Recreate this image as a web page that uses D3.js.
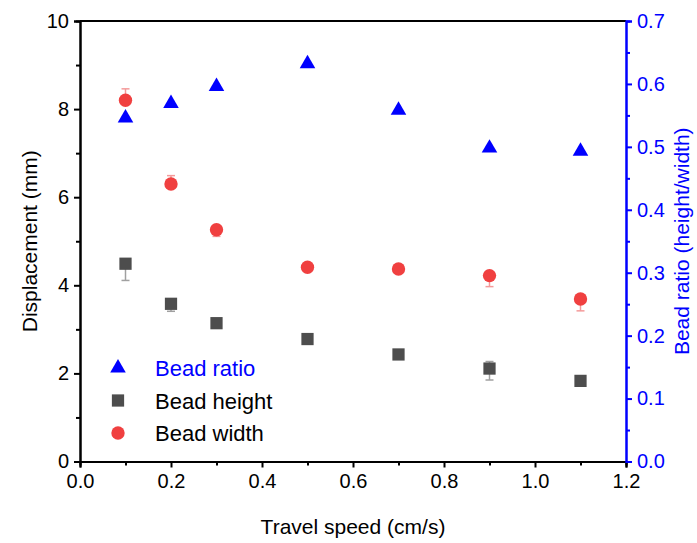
<!DOCTYPE html>
<html>
<head>
<meta charset="utf-8">
<script src="https://cdn.jsdelivr.net/npm/d3@7"></script>
<style>
  body { margin: 0; background: #fff; }
  text { font-family: "Liberation Sans", Arial, sans-serif; }
</style>
</head>
<body>
<script>
// travel speed (cm/s)
var speeds = [0.1, 0.2, 0.3, 0.5, 0.7, 0.9, 1.1];
// displacement (mm)
var beadHeight = [4.49, 3.58, 3.14, 2.78, 2.43, 2.11, 1.83];
var heightErrUp = [0, 0, 0, 0, 0, 0.16, 0];
var heightErrDown = [0.38, 0.17, 0.08, 0, 0, 0.26, 0.1];
var beadWidth = [8.2, 6.3, 5.26, 4.41, 4.37, 4.22, 3.69];
var widthErrUp = [0.26, 0.19, 0, 0, 0, 0.05, 0.05];
var widthErrDown = [0, 0, 0.15, 0, 0, 0.25, 0.27];
// bead ratio (height/width), right axis
var beadRatio = [0.546, 0.569, 0.596, 0.632, 0.558, 0.498, 0.493];

var xTicks = [0, 0.2, 0.4, 0.6, 0.8, 1.0, 1.2];
var yTicks = [0, 2, 4, 6, 8, 10];
var y2Ticks = [0, 0.1, 0.2, 0.3, 0.4, 0.5, 0.6, 0.7];
var legendNames = ["Bead ratio", "Bead height", "Bead width"];

var margin = {top: 21, right: 71, bottom: 81.5, left: 80},
    width = 697 - margin.left - margin.right,
    height = 543 - margin.top - margin.bottom;

var svg = d3.select("body").append("svg")
    .attr("width", 697)
    .attr("height", 543)
    .append("g")
    .attr("transform", "translate(" + margin.left + "," + margin.top + ")");

var xScale = d3.scaleLinear().domain([0, 1.2]).range([0, width]);
var yScale = d3.scaleLinear().domain([0, 10]).range([height, 0]);
var y2Scale = d3.scaleLinear().domain([0, 0.7]).range([height, 0]);

var blue = "#0000ff", red = "#f04040", grey = "#4d4d4d";

// top border
svg.append("line")
    .attr("x1", 0).attr("x2", width)
    .attr("y1", 0).attr("y2", 0)
    .attr("stroke", "#000").attr("stroke-width", 2);

// minor tick positions, halfway between majors
function minors(step, lo, hi) {
    var out = [];
    for (var v = lo; v < hi + 1e-9; v += step) out.push(+v.toFixed(3));
    return out;
}

var xAxis = d3.axisBottom(xScale).tickValues(xTicks).tickFormat(d3.format(".1f")).tickSize(6).tickPadding(6);
var xMinor = d3.axisBottom(xScale).tickValues(minors(0.2, 0.1, 1.1)).tickFormat("").tickSize(4);
var yAxis = d3.axisLeft(yScale).tickValues(yTicks).tickFormat(d3.format("d")).tickSize(6).tickPadding(5);
var yMinor = d3.axisLeft(yScale).tickValues(minors(2, 1, 9)).tickFormat("").tickSize(4);
var y2Axis = d3.axisRight(y2Scale).tickValues(y2Ticks).tickFormat(d3.format(".1f")).tickSize(6).tickPadding(5);
var y2Minor = d3.axisRight(y2Scale).tickValues(minors(0.1, 0.05, 0.65)).tickFormat("").tickSize(4);

function style(g, color) {
    g.select(".domain").attr("stroke", color).attr("stroke-width", 2);
    g.selectAll(".tick line").attr("stroke", color).attr("stroke-width", 2);
    g.selectAll(".tick text").attr("fill", color).attr("font-size", "20px")
        .style("font-family", "'Liberation Sans', Arial, sans-serif");
}

svg.append("g").attr("transform", "translate(0," + height + ")").call(xMinor).call(style, "#000");
svg.append("g").attr("transform", "translate(0," + height + ")").call(xAxis).call(style, "#000");
svg.append("g").call(yMinor).call(style, "#000");
svg.append("g").call(yAxis).call(style, "#000");
svg.append("g").attr("transform", "translate(" + width + ",0)").call(y2Minor).call(style, blue);
svg.append("g").attr("transform", "translate(" + width + ",0)").call(y2Axis).call(style, blue);

// axis titles
svg.append("text")
    .attr("x", width / 2).attr("y", height + 72)
    .attr("text-anchor", "middle").attr("font-size", "21px")
    .text("Travel speed (cm/s)");
svg.append("text")
    .attr("transform", "rotate(-90)")
    .attr("x", -height / 2).attr("y", -43)
    .attr("text-anchor", "middle").attr("font-size", "21px")
    .text("Displacement (mm)");
svg.append("text")
    .attr("transform", "rotate(-90)")
    .attr("x", -height / 2).attr("y", width + 63)
    .attr("text-anchor", "middle").attr("font-size", "21px")
    .attr("fill", blue)
    .text("Bead ratio (height/width)");

// data tables
var heightData = speeds.map(function(s, i) {
    return {x: s, y: beadHeight[i], up: heightErrUp[i], down: heightErrDown[i]};
});
var widthData = speeds.map(function(s, i) {
    return {x: s, y: beadWidth[i], up: widthErrUp[i], down: widthErrDown[i]};
});
var ratioData = speeds.map(function(s, i) { return {x: s, y: beadRatio[i]}; });

// error bars (one-sided where only one side shows)
function errorBars(data, color) {
    var g = svg.append("g").attr("stroke", color).attr("stroke-width", 1.5);
    data.forEach(function(d) {
        var cx = xScale(d.x);
        if (d.up > 0) {
            g.append("line").attr("x1", cx).attr("x2", cx)
                .attr("y1", yScale(d.y)).attr("y2", yScale(d.y + d.up));
            g.append("line").attr("x1", cx - 4).attr("x2", cx + 4)
                .attr("y1", yScale(d.y + d.up)).attr("y2", yScale(d.y + d.up));
        }
        if (d.down > 0) {
            g.append("line").attr("x1", cx).attr("x2", cx)
                .attr("y1", yScale(d.y)).attr("y2", yScale(d.y - d.down));
            g.append("line").attr("x1", cx - 4).attr("x2", cx + 4)
                .attr("y1", yScale(d.y - d.down)).attr("y2", yScale(d.y - d.down));
        }
    });
}
errorBars(heightData, "#a0a0a0");
errorBars(widthData, "#f49a9a");

var sq = d3.symbol().type(d3.symbolSquare).size(150);
var circ = d3.symbol().type(d3.symbolCircle).size(140);
var tri = d3.symbol().type(d3.symbolTriangle).size(105);

svg.selectAll(".hpt").data(heightData).enter().append("path")
    .attr("d", sq)
    .attr("transform", function(d) { return "translate(" + xScale(d.x) + "," + yScale(d.y) + ")"; })
    .attr("fill", grey);

svg.selectAll(".wpt").data(widthData).enter().append("path")
    .attr("d", circ)
    .attr("transform", function(d) { return "translate(" + xScale(d.x) + "," + yScale(d.y) + ")"; })
    .attr("fill", red);

svg.selectAll(".rpt").data(ratioData).enter().append("path")
    .attr("d", tri)
    .attr("transform", function(d) { return "translate(" + xScale(d.x) + "," + y2Scale(d.y) + ")"; })
    .attr("fill", blue);

// legend
var legendSym = [tri, sq, circ];
var legendCol = [blue, grey, red];
var legendTxt = [blue, "#000", "#000"];
var legend = svg.append("g").attr("transform", "translate(38,347)");
legendNames.forEach(function(name, i) {
    legend.append("path")
        .attr("d", legendSym[i])
        .attr("transform", "translate(0," + (i * 32.5) + ")")
        .attr("fill", legendCol[i]);
    legend.append("text")
        .attr("x", 37).attr("y", i * 32.5 + 8)
        .attr("font-size", "22px")
        .attr("fill", legendTxt[i])
        .text(name);
});
</script>
</body>
</html>
